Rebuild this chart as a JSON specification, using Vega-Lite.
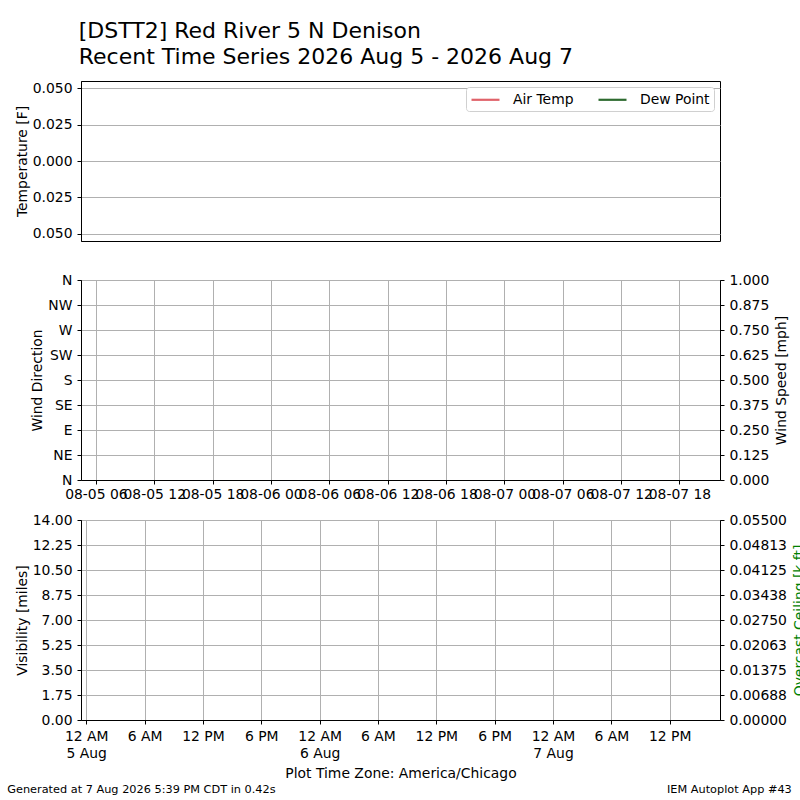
{
  "$schema": "https://vega.github.io/schema/vega-lite/v6.json",
  "padding": {"left": 6, "top": 19, "right": 0, "bottom": 0},
  "title": {
    "text": ["[DSTT2] Red River 5 N Denison", "Recent Time Series 2026 Aug 5 - 2026 Aug 7"],
    "anchor": "start",
    "font": "DejaVu Sans",
    "fontSize": 22,
    "fontWeight": "normal",
    "lineHeight": 26,
    "offset": 12,
    "dx": 72,
    "color": "black"
  },
  "spacing": 10,
  "vconcat": [
    {
      "width": 639,
      "height": 160,
      "data": {"values": [{"valid": 1785888000000, "series": "Air Temp", "temp": null}]},
      "mark": {"type": "line"},
      "encoding": {
        "x": {
          "field": "valid",
          "type": "temporal",
          "scale": {"type": "utc", "domain": [1785886080000, 1786122600000]},
          "axis": {
            "title": null,
            "grid": false,
            "domain": false,
            "labelPadding": 2,
            "tickColor": "transparent",
            "labelColor": "transparent",
            "values": [1785909600000, 1785996000000, 1786082400000],
            "labelExpr": "utcFormat(datum.value, '%m-%d %H')"
          }
        },
        "y": {
          "field": "temp",
          "type": "quantitative",
          "scale": {"domain": [-0.055, 0.055], "nice": false, "zero": false},
          "axis": {
            "title": "Temperature [F]",
            "values": [-0.05, -0.025, 0, 0.025, 0.05],
            "labelExpr": "format(abs(datum.value), '.3f')"
          }
        },
        "color": {
          "field": "series",
          "type": "nominal",
          "scale": {"domain": ["Air Temp", "Dew Point"], "range": ["#e0626a", "#2e6b30"]},
          "legend": {
            "title": null,
            "orient": "top-right",
            "direction": "horizontal",
            "offset": 6,
            "padding": 4,
            "columnPadding": 20,
            "strokeColor": "#d0d0d0",
            "fillColor": "white",
            "cornerRadius": 3,
            "symbolType": "M-2,0H2",
            "symbolSize": 196,
            "symbolOffset": 7,
            "symbolStrokeWidth": 2.2,
            "labelOffset": 19,
            "labelFontSize": 13.9,
            "labelColor": "black"
          }
        }
      }
    },
    {
      "width": 639,
      "height": 200,
      "data": {"values": [{"valid": 1785909600000, "drct": null, "sknt": null}]},
      "layer": [
        {
          "mark": {"type": "point"},
          "encoding": {
            "x": {
              "field": "valid",
              "type": "temporal",
              "scale": {"type": "utc", "domain": [1785904080000, 1786140600000]},
              "axis": {
                "title": null,
                "labelPadding": 3,
                "values": [1785909600000, 1785931200000, 1785952800000, 1785974400000, 1785996000000, 1786017600000, 1786039200000, 1786060800000, 1786082400000, 1786104000000, 1786125600000],
                "labelExpr": "utcFormat(datum.value, '%m-%d %H')",
                "labelOverlap": false,
                "labelFlush": false,
                "labelBound": false
              }
            },
            "y": {
              "field": "drct",
              "type": "quantitative",
              "scale": {"domain": [0, 360], "nice": false},
              "axis": {
                "title": "Wind Direction",
                "values": [0, 45, 90, 135, 180, 225, 270, 315, 360],
                "labelExpr": "['N','NE','E','SE','S','SW','W','NW','N'][round(datum.value / 45)]"
              }
            }
          }
        },
        {
          "mark": {"type": "point"},
          "encoding": {
            "x": {"field": "valid", "type": "temporal"},
            "y": {
              "field": "sknt",
              "type": "quantitative",
              "scale": {"domain": [0, 1], "nice": false},
              "axis": {
                "orient": "right",
                "title": "Wind Speed [mph]",
                "titleAngle": 270,
                "titleBaseline": "top",
                "titlePadding": 6,
                "grid": false,
                "values": [0, 0.125, 0.25, 0.375, 0.5, 0.625, 0.75, 0.875, 1],
                "format": ".3f"
              }
            }
          }
        }
      ],
      "resolve": {"scale": {"y": "independent"}}
    },
    {
      "width": 639,
      "height": 200,
      "data": {"values": [{"valid": 1785888000000, "vsby": null, "ceiling": null}]},
      "title": {
        "text": "Generated at 7 Aug 2026 5:39 PM CDT in 0.42s\u00a0\u00a0\u00a0\u00a0\u00a0\u00a0\u00a0\u00a0\u00a0\u00a0\u00a0\u00a0\u00a0\u00a0\u00a0\u00a0\u00a0\u00a0\u00a0\u00a0\u00a0\u00a0\u00a0\u00a0\u00a0\u00a0\u00a0\u00a0\u00a0\u00a0\u00a0\u00a0\u00a0\u00a0\u00a0\u00a0\u00a0\u00a0\u00a0\u00a0\u00a0\u00a0\u00a0\u00a0\u00a0\u00a0\u00a0\u00a0\u00a0\u00a0\u00a0\u00a0\u00a0\u00a0\u00a0\u00a0\u00a0\u00a0\u00a0\u00a0\u00a0\u00a0\u00a0\u00a0\u00a0\u00a0\u00a0\u00a0\u00a0\u00a0\u00a0\u00a0\u00a0\u00a0\u00a0\u00a0\u00a0\u00a0\u00a0\u00a0\u00a0\u00a0\u00a0\u00a0\u00a0\u00a0\u00a0\u00a0\u00a0\u00a0\u00a0\u00a0\u00a0\u00a0\u00a0\u00a0\u00a0\u00a0\u00a0\u00a0\u00a0\u00a0\u00a0\u00a0\u00a0\u00a0\u00a0\u00a0\u00a0IEM Autoplot App #43",
        "orient": "bottom",
        "anchor": "start",
        "frame": "bounds",
        "fontSize": 11.3,
        "fontWeight": "normal",
        "color": "black",
        "offset": 3,
        "dx": -8
      },
      "layer": [
        {
          "mark": {"type": "point"},
          "encoding": {
            "x": {
              "field": "valid",
              "type": "temporal",
              "scale": {"type": "utc", "domain": [1785886080000, 1786122600000]},
              "axis": {
                "title": "Plot Time Zone: America/Chicago",
                "titlePadding": 7,
                "values": [1785888000000, 1785909600000, 1785931200000, 1785952800000, 1785974400000, 1785996000000, 1786017600000, 1786039200000, 1786060800000, 1786082400000, 1786104000000],
                "labelExpr": "utchours(datum.value) == 0 ? ['12 AM', utcdate(datum.value) + ' ' + utcFormat(datum.value, '%b')] : (utchours(datum.value) == 12 ? '12 PM' : (utchours(datum.value) % 12) + (utchours(datum.value) < 12 ? ' AM' : ' PM'))",
                "labelOverlap": false,
                "labelFlush": false,
                "labelBound": false,
                "labelLineHeight": 17
              }
            },
            "y": {
              "field": "vsby",
              "type": "quantitative",
              "scale": {"domain": [0, 14], "nice": false},
              "axis": {
                "title": "Visibility [miles]",
                "values": [0, 1.75, 3.5, 5.25, 7, 8.75, 10.5, 12.25, 14],
                "format": ".2f"
              }
            }
          }
        },
        {
          "mark": {"type": "point"},
          "encoding": {
            "x": {"field": "valid", "type": "temporal"},
            "y": {
              "field": "ceiling",
              "type": "quantitative",
              "scale": {"domain": [0, 0.055], "nice": false},
              "axis": {
                "orient": "right",
                "title": "Overcast Ceiling [k ft]",
                "titleColor": "green",
                "titleAngle": 270,
                "titleBaseline": "top",
                "titlePadding": 6,
                "grid": false,
                "values": [0, 0.006875, 0.01375, 0.020625, 0.0275, 0.034375, 0.04125, 0.048125, 0.055],
                "format": ".5f"
              }
            }
          }
        }
      ],
      "resolve": {"scale": {"y": "independent"}}
    }
  ],
  "config": {
    "font": "DejaVu Sans",
    "view": {"stroke": "black", "strokeWidth": 1},
    "axis": {
      "labelFontSize": 13.9,
      "labelColor": "black",
      "titleFontSize": 13.9,
      "titleFontWeight": "normal",
      "titleColor": "black",
      "domainColor": "black",
      "tickColor": "black",
      "tickSize": 4,
      "labelPadding": 5,
      "titlePadding": 3,
      "grid": true,
      "gridColor": "#b0b0b0"
    }
  }
}
